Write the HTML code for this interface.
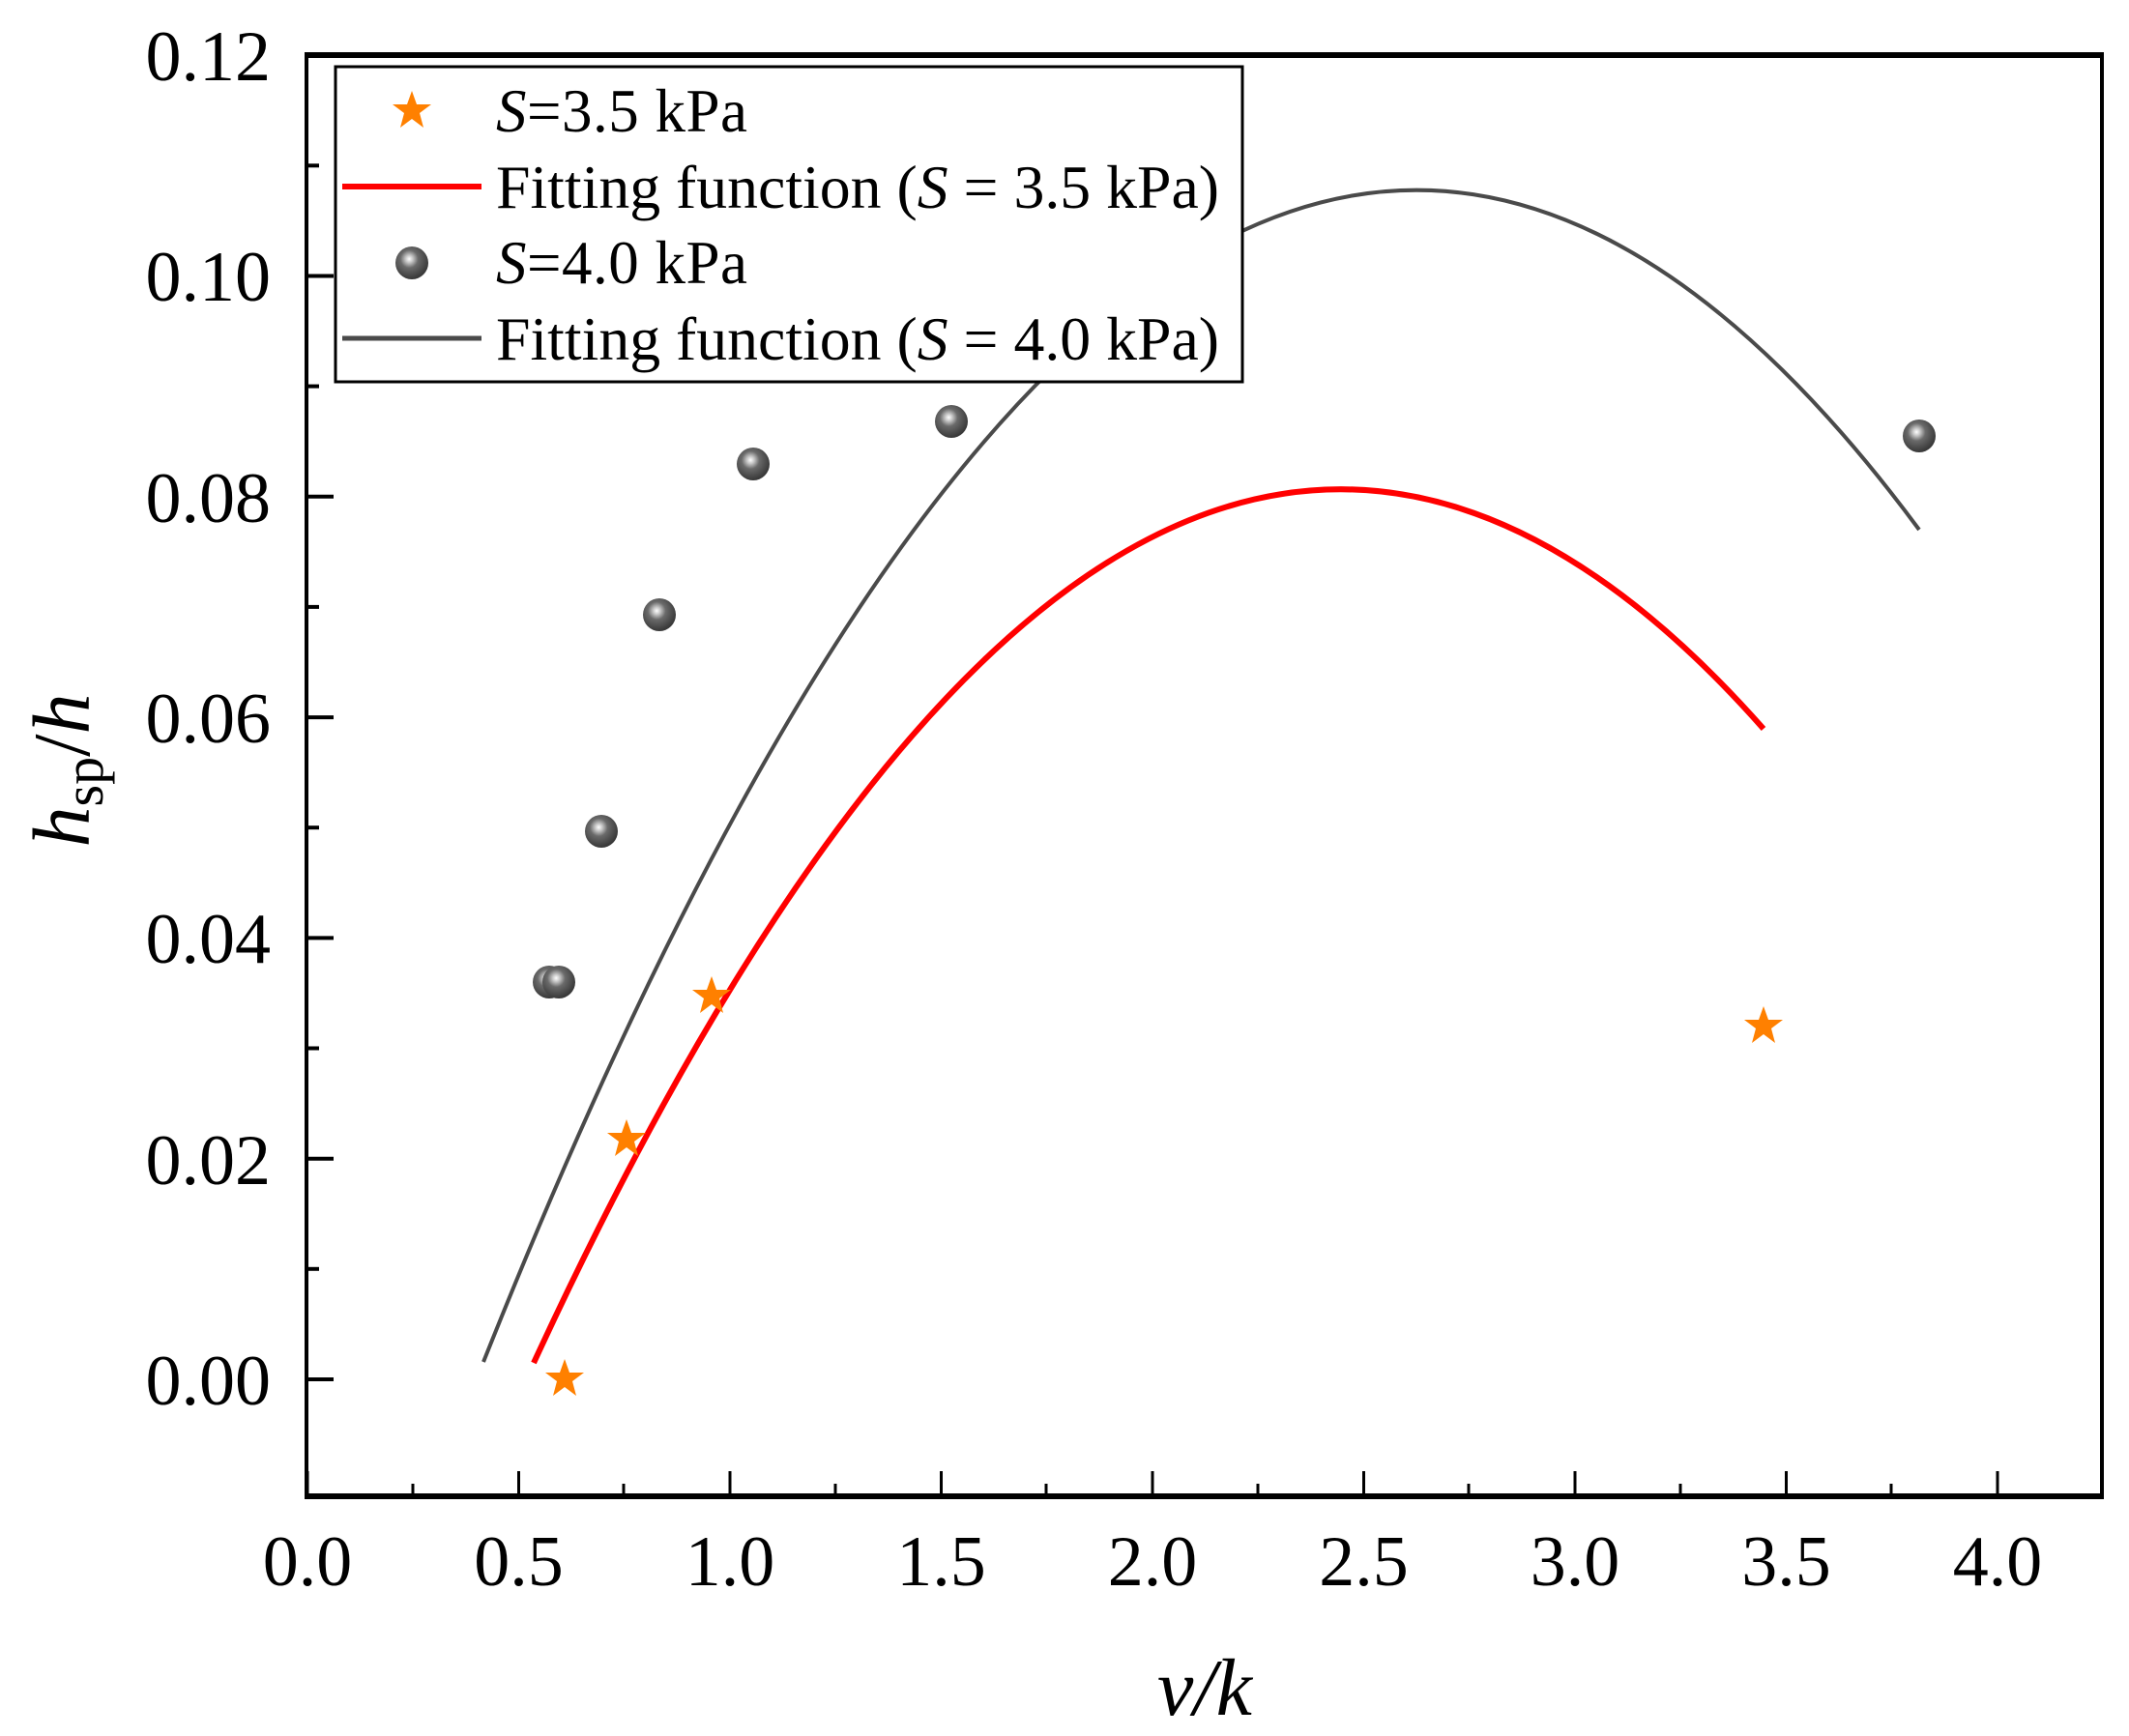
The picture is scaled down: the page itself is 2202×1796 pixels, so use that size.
<!DOCTYPE html>
<html><head><meta charset="utf-8"><style>
html,body{margin:0;padding:0;background:#fff;}
svg{display:block;}
text{font-family:"Liberation Serif",serif;fill:#000;}
</style></head><body>
<svg width="2202" height="1796" viewBox="0 0 2202 1796" xmlns="http://www.w3.org/2000/svg">
<defs>
<radialGradient id="sph" cx="0.42" cy="0.38" r="0.6">
<stop offset="0" stop-color="#ffffff"/>
<stop offset="0.18" stop-color="#c8c8c8"/>
<stop offset="0.45" stop-color="#6a6a6a"/>
<stop offset="1" stop-color="#3a3a3a"/>
</radialGradient>
<g id="star"><polygon points="0,-21 5,-7 20,-7 8,2 12,17 0,8 -12,17 -8,2 -20,-7 -5,-7" fill="#ff8000"/></g>
<g id="ball"><circle r="17" fill="url(#sph)"/></g>
</defs>
<!-- frame -->
<line x1="316" y1="57" x2="2175" y2="57" stroke="#000" stroke-width="6"/>
<line x1="316" y1="1548" x2="2175" y2="1548" stroke="#000" stroke-width="6"/>
<line x1="317" y1="54" x2="317" y2="1551" stroke="#000" stroke-width="4"/>
<line x1="2174" y1="54" x2="2174" y2="1551" stroke="#000" stroke-width="4"/>
<!-- x ticks -->
<g stroke="#000" stroke-width="3">
<line x1="318" y1="1548" x2="318" y2="1522"/>
<line x1="755" y1="1548" x2="755" y2="1522"/>
<line x1="1192" y1="1548" x2="1192" y2="1522"/>
<line x1="1629" y1="1548" x2="1629" y2="1522"/>
<line x1="2066" y1="1548" x2="2066" y2="1522"/>
<line x1="536.5" y1="1548" x2="536.5" y2="1522"/><line x1="973.5" y1="1548" x2="973.5" y2="1522"/>
<line x1="1410.5" y1="1548" x2="1410.5" y2="1522"/><line x1="1847.5" y1="1548" x2="1847.5" y2="1522"/>
<line x1="427" y1="1548" x2="427" y2="1535"/><line x1="645" y1="1548" x2="645" y2="1535"/>
<line x1="864" y1="1548" x2="864" y2="1535"/><line x1="1082" y1="1548" x2="1082" y2="1535"/>
<line x1="1301" y1="1548" x2="1301" y2="1535"/><line x1="1519" y1="1548" x2="1519" y2="1535"/>
<line x1="1738" y1="1548" x2="1738" y2="1535"/><line x1="1956" y1="1548" x2="1956" y2="1535"/>
</g>
<!-- y ticks -->
<g stroke="#000" stroke-width="4">
<line x1="318" y1="1427" x2="345" y2="1427"/><line x1="318" y1="1198.7" x2="345" y2="1198.7"/>
<line x1="318" y1="970.4" x2="345" y2="970.4"/><line x1="318" y1="742.1" x2="345" y2="742.1"/>
<line x1="318" y1="513.8" x2="345" y2="513.8"/><line x1="318" y1="285.5" x2="345" y2="285.5"/>
<line x1="318" y1="1312.8" x2="330" y2="1312.8"/><line x1="318" y1="1084.5" x2="330" y2="1084.5"/>
<line x1="318" y1="856.2" x2="330" y2="856.2"/><line x1="318" y1="627.9" x2="330" y2="627.9"/>
<line x1="318" y1="399.6" x2="330" y2="399.6"/><line x1="318" y1="171.3" x2="330" y2="171.3"/>
</g>
<!-- y tick labels -->
<g font-size="74" text-anchor="end">
<text x="280" y="1453">0.00</text><text x="280" y="1225">0.02</text>
<text x="280" y="996">0.04</text><text x="280" y="768">0.06</text>
<text x="280" y="540">0.08</text><text x="280" y="311">0.10</text>
<text x="280" y="83">0.12</text>
</g>
<!-- x tick labels -->
<g font-size="74" text-anchor="middle">
<text x="318" y="1640">0.0</text><text x="536.5" y="1640">0.5</text>
<text x="755" y="1640">1.0</text><text x="973.5" y="1640">1.5</text>
<text x="1192" y="1640">2.0</text><text x="1410.5" y="1640">2.5</text>
<text x="1629" y="1640">3.0</text><text x="1847.5" y="1640">3.5</text>
<text x="2066" y="1640">4.0</text>
</g>
<!-- axis labels -->
<text x="1246" y="1774" font-size="84" text-anchor="middle" font-style="italic">v/k</text>
<text transform="translate(92,797) rotate(-90)" font-size="84" text-anchor="middle"><tspan font-style="italic">h</tspan><tspan font-size="58" dy="14">sp</tspan><tspan dy="-14">/</tspan><tspan font-style="italic">h</tspan></text>
<!-- curves -->
<path d="M552,1410 Q1188,33 1824,754" fill="none" stroke="#ff0000" stroke-width="6"/>
<path d="M500,1409 Q1242,-456 1985,548" fill="none" stroke="#4a4a4a" stroke-width="4"/>
<!-- points -->
<use href="#star" x="584" y="1427"/><use href="#star" x="648" y="1179"/>
<use href="#star" x="736" y="1031"/><use href="#star" x="1824" y="1062"/>
<use href="#ball" x="568" y="1016"/><use href="#ball" x="578" y="1016"/>
<use href="#ball" x="622" y="860"/><use href="#ball" x="682" y="636"/>
<use href="#ball" x="779" y="480"/><use href="#ball" x="984" y="436"/>
<use href="#ball" x="1985" y="451"/>
<!-- legend -->
<rect x="347" y="69" width="938" height="326" fill="#fff" stroke="#000" stroke-width="3"/>
<use href="#star" x="426" y="115"/>
<line x1="354" y1="193" x2="498" y2="193" stroke="#ff0000" stroke-width="6"/>
<use href="#ball" x="426" y="272"/>
<line x1="354" y1="350" x2="498" y2="350" stroke="#4a4a4a" stroke-width="5"/>
<g font-size="63">
<text x="513" y="136" textLength="260"><tspan font-style="italic">S</tspan>=3.5 kPa</text>
<text x="513" y="215" textLength="748" lengthAdjust="spacingAndGlyphs">Fitting function (<tspan font-style="italic">S</tspan> = 3.5 kPa)</text>
<text x="513" y="293" textLength="260"><tspan font-style="italic">S</tspan>=4.0 kPa</text>
<text x="513" y="372" textLength="748" lengthAdjust="spacingAndGlyphs">Fitting function (<tspan font-style="italic">S</tspan> = 4.0 kPa)</text>
</g>
</svg>
</body></html>
